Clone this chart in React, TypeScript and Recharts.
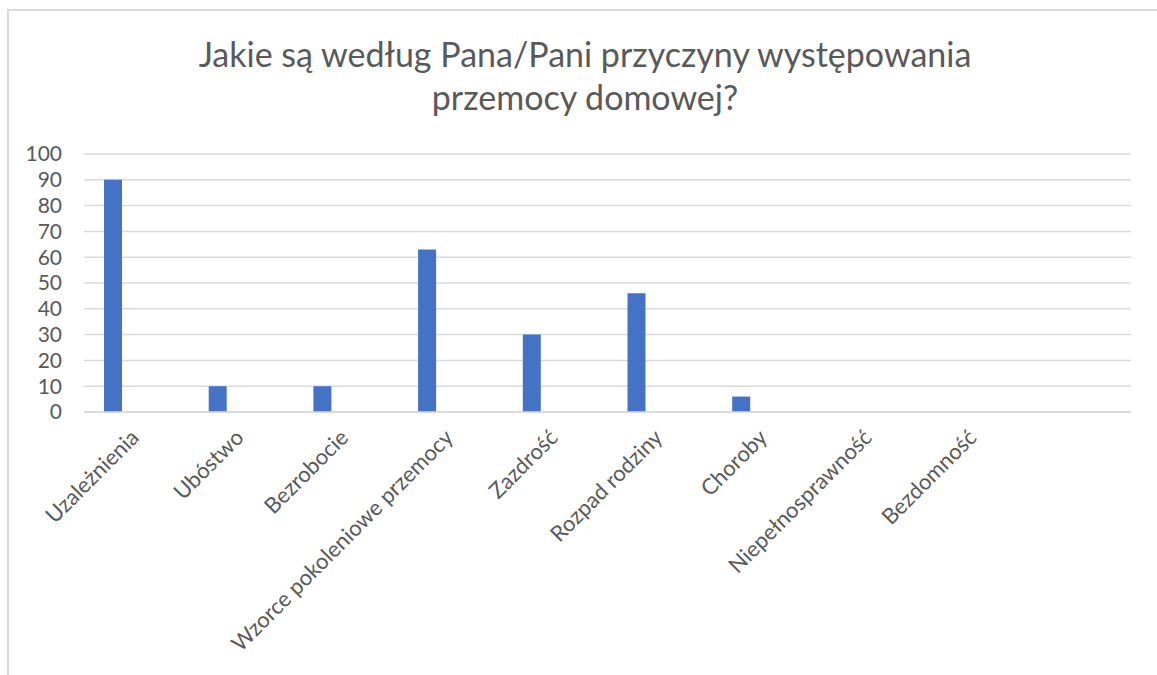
import React from 'react';
import { BarChart, Bar, XAxis, YAxis, CartesianGrid } from 'recharts';

const categories = [
  'Uzależnienia',
  'Ubóstwo',
  'Bezrobocie',
  'Wzorce pokoleniowe przemocy',
  'Zazdrość',
  'Rozpad rodziny',
  'Choroby',
  'Niepełnosprawność',
  'Bezdomność',
  '',
];
const seria1 = [90, 10, 10, 63, 30, 46, 6, 0, 0, null];
const seria2 = [null, null, null, null, null, null, null, null, null, null];
const yTicks = [0, 10, 20, 30, 40, 50, 60, 70, 80, 90, 100];
const titleLines = ['Jakie są według Pana/Pani przyczyny występowania', 'przemocy domowej?'];

const data = categories.map((name, i) => ({ name, s1: seria1[i], s2: seria2[i] }));

const FONT = 'Lato, "Noto Sans", sans-serif';
const TEXT = '#595959';
const GRID = '#d9d9d9';

const XTick = (props: any) => {
  const { x, y, payload } = props;
  if (!payload || !payload.value) return null;
  const px = x + 4;
  const py = y + 27;
  return (
    <text
      x={px}
      y={py}
      textAnchor="end"
      transform={`rotate(-45 ${px} ${py})`}
      fill={TEXT}
      fontSize={22}
      fontFamily={FONT}
    >
      {payload.value}
    </text>
  );
};

export default function App() {
  return (
    <div
      style={{
        position: 'fixed',
        left: 0,
        top: 0,
        width: 1157,
        height: 675,
        overflow: 'hidden',
        background: '#fff',
      }}
    >
      <div
        style={{
          position: 'absolute',
          left: 7,
          top: 9,
          width: 1200,
          height: 700,
          borderTop: `2px solid ${GRID}`,
          borderLeft: `2px solid ${GRID}`,
        }}
      />
      <div style={{ position: 'absolute', left: 0, top: 0 }}>
        <BarChart
          width={1157}
          height={675}
          data={data}
          margin={{ top: 154, right: 26, bottom: 0, left: 0 }}
          barGap={28}
        >
          <CartesianGrid vertical={false} stroke={GRID} strokeWidth={1.5} />
          <XAxis
            dataKey="name"
            height={263}
            interval={0}
            tickLine={false}
            tickSize={0}
            tickMargin={0}
            axisLine={{ stroke: GRID, strokeWidth: 1.5 }}
            tick={<XTick />}
          />
          <YAxis
            width={84}
            domain={[0, 100]}
            ticks={yTicks}
            interval={0}
            axisLine={false}
            tickLine={false}
            tickSize={0}
            tickMargin={22}
            tick={{ fill: TEXT, fontSize: 21, fontFamily: FONT }}
          />
          <Bar dataKey="s1" fill="#4472C4" barSize={18} isAnimationActive={false} />
          <Bar dataKey="s2" fill="#ED7D31" barSize={18} isAnimationActive={false} />
        </BarChart>
      </div>
      <svg
        width={1157}
        height={140}
        style={{ position: 'absolute', left: 0, top: 0, pointerEvents: 'none' }}
      >
        {titleLines.map((t, i) => (
          <text
            key={i}
            x={585}
            y={67 + i * 43}
            textAnchor="middle"
            fill={TEXT}
            fontSize={34}
            fontFamily={FONT}
          >
            {t}
          </text>
        ))}
      </svg>
    </div>
  );
}
